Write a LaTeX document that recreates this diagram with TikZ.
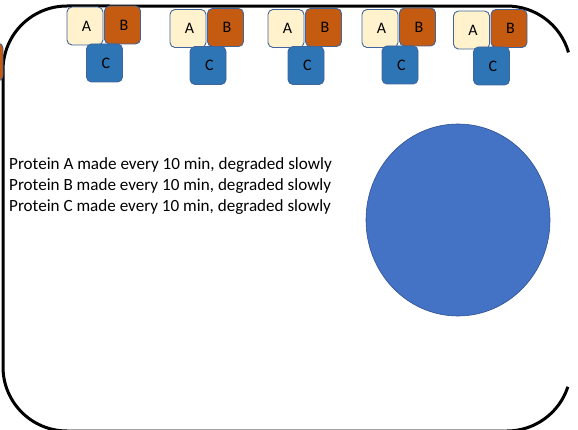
\documentclass[tikz,border=0pt]{standalone}
\usepackage{fontspec}
\setmainfont{Carlito}
\usetikzlibrary{shapes.geometric}
\definecolor{afill}{HTML}{FFF2CC}
\definecolor{bfill}{HTML}{C55A11}
\definecolor{cfill}{HTML}{2E75B6}
\definecolor{edgeblue}{HTML}{41649A}
\definecolor{circfill}{HTML}{4472C4}
\definecolor{circedge}{HTML}{2F528F}
\tikzset{
  protbox/.style={draw=edgeblue, line width=0.9pt, rounded corners=5pt,
    minimum width=36pt, minimum height=38pt, inner sep=0pt,
    font=\fontsize{16}{18}\selectfont, text=black},
  pa/.style={protbox, fill=afill},
  pb/.style={protbox, fill=bfill},
  pc/.style={protbox, fill=cfill},
  info/.style={anchor=west, inner sep=0pt, font=\fontsize{17.1}{20}\selectfont},
  membrane/.style={line width=3pt},
}
\begin{document}
\begin{tikzpicture}[x=1pt,y=-1pt]
\useasboundingbox (0,0) rectangle (578,430);
\clip (0,0) rectangle (578,430);
% cell outline (right side falls outside the view)
\draw[membrane] (568.5,52.4) arc[start angle=-16, end angle=-90, radius=64]
  -- (67,6) arc[start angle=-90, end angle=-180, radius=64]
  -- (3,367) arc[start angle=180, end angle=90, radius=64]
  -- (507,431) arc[start angle=90, end angle=18, radius=64];
% partially visible box at left edge
\node[pb] (bcut) at (-15,62) {};
% groups
\node[pa] (a1) at (85,26) {\hspace*{3pt}A};
\node[pb] (b1) at (122.5,25) {\hspace*{3pt}B};
\node[pc] (c1) at (104.5,63) {\hspace*{3pt}C};
\node[pa] (a2) at (188,28.5) {\hspace*{3pt}A};
\node[pb] (b2) at (225.5,27.5) {\hspace*{3pt}B};
\node[pc] (c2) at (208,65.5) {\hspace*{3pt}C};
\node[pa] (a3) at (286,28.5) {\hspace*{3pt}A};
\node[pb] (b3) at (323.5,27.5) {\hspace*{3pt}B};
\node[pc] (c3) at (306,65.5) {\hspace*{3pt}C};
\node[pa] (a4) at (380,28.5) {\hspace*{3pt}A};
\node[pb] (b4) at (417.5,27) {\hspace*{3pt}B};
\node[pc] (c4) at (400,65) {\hspace*{3pt}C};
\node[pa] (a5) at (471.5,30) {\hspace*{3pt}A};
\node[pb] (b5) at (509,28.5) {\hspace*{3pt}B};
\node[pc] (c5) at (491.5,66) {\hspace*{3pt}C};
% text
\node[info] (t1) at (9,165) {Protein A made every 10 min, degraded slowly};
\node[info] (t2) at (9,186) {Protein B made every 10 min, degraded slowly};
\node[info] (t3) at (9,207) {Protein C made every 10 min, degraded slowly};
% circle
\node[ellipse, draw=circedge, line width=0.6pt, fill=circfill,
  minimum width=184pt, minimum height=192pt, inner sep=0pt] (ball) at (458,220) {};
\end{tikzpicture}
\end{document}
